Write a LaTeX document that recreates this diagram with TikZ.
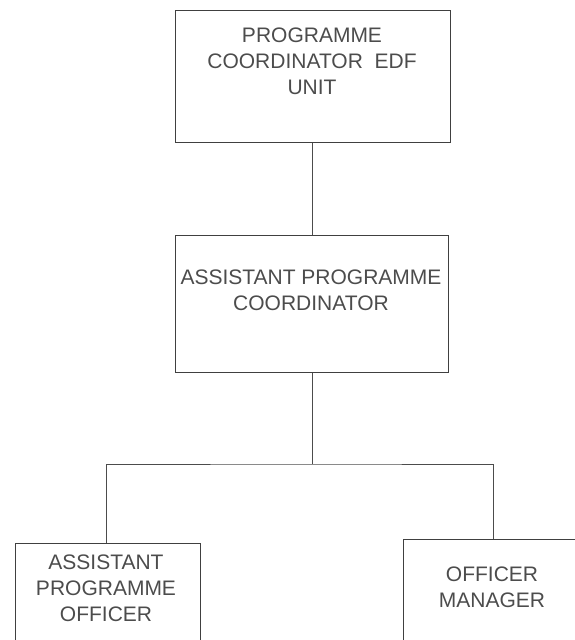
\documentclass[tikz,border=0pt]{standalone}
\usepackage{fontspec}
\setmainfont{Liberation Sans}
\begin{document}
\begin{tikzpicture}[x=1pt,y=-1pt,
  box/.style={draw=black!75, line width=1.1pt, rectangle, inner sep=0pt, anchor=north west},
  lbl/.style={text=black!70, align=center, inner sep=0pt,
              font=\fontsize{21}{26}\selectfont},
  link/.style={draw=black!70, line width=1pt}]
  \useasboundingbox (0,0) rectangle (575,640);
  \clip (0,0) rectangle (575,640);

  % boxes
  \node[box, minimum width=275pt, minimum height=132pt] (pc)  at (175,10)  {};
  \node[box, minimum width=273pt, minimum height=137pt] (apc) at (175,235) {};
  \node[box, minimum width=185pt, minimum height=120pt] (apo) at (15,543)  {};
  \node[box, minimum width=180pt, minimum height=125pt] (om)  at (403,539) {};

  % titles
  \node[lbl] (tpc)  at (312,61)  {PROGRAMME\\COORDINATOR\ \ EDF\\UNIT};
  \node[lbl] (tapc) at (311,290) {ASSISTANT PROGRAMME\\COORDINATOR};
  \node[lbl] (tapo) at (106,588) {ASSISTANT\\PROGRAMME\\OFFICER};
  \node[lbl] (tom)  at (492,587) {OFFICER\\MANAGER};

  % connectors
  \coordinate (bus) at (312,464);
  \draw[link] (pc.south -| bus) -- (apc.north -| bus);
  \draw[link] (apc.south -| bus) -- (bus);
  \draw[link] (apo.north -| 106,0) |- (bus) -| (om.north -| 493,0);
\end{tikzpicture}
\end{document}
